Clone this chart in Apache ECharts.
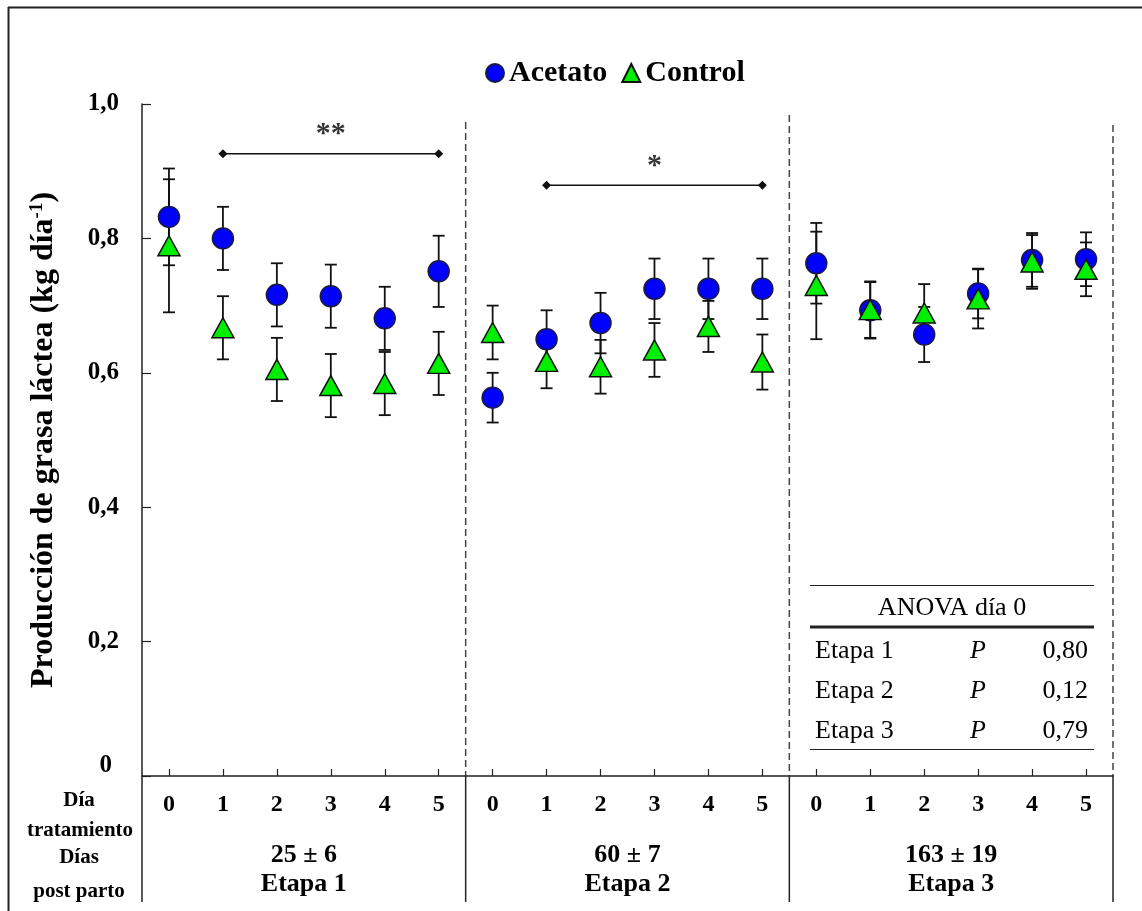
<!DOCTYPE html>
<html>
<head>
<meta charset="utf-8">
<script src="https://cdn.jsdelivr.net/npm/echarts@6/dist/echarts.min.js"></script>
<style>
html,body{margin:0;padding:0;background:#fff;}
#chart{width:1142px;height:911px;}
</style>
</head>
<body>
<div id="chart"></div>
<script>
// ---- data ----
const dayLabels = ['0','1','2','3','4','5'];
const stageNames = ['Etapa 1','Etapa 2','Etapa 3'];
const stageDays = ['25 \u00b1 6','60 \u00b1 7','163 \u00b1 19'];
const acetato = [0.832,0.800,0.716,0.714,0.681,0.751, 0.563,0.650,0.674,0.725,0.725,0.725, 0.763,0.693,0.657,0.718,0.768,0.769];
const acetatoSE = [0.072,0.047,0.047,0.047,0.047,0.053, 0.037,0.043,0.045,0.045,0.045,0.045, 0.060,0.042,0.041,0.037,0.040,0.040];
const control = [0.789,0.667,0.605,0.581,0.584,0.614, 0.660,0.617,0.609,0.634,0.669,0.616, 0.730,0.694,0.689,0.710,0.765,0.754];
const controlSE = [0.099,0.047,0.047,0.047,0.047,0.047, 0.040,0.040,0.040,0.040,0.038,0.041, 0.080,0.042,0.043,0.044,0.040,0.040];
const bracketStart = [1, 7];
const bracketEnd = [5, 11];
const bracketLevel = [0.926, 0.879];
const bracketText = ['**', '*'];
const yTicks = [0, 0.2, 0.4, 0.6, 0.8, 1.0];
const anovaTitle = 'ANOVA d\u00eda 0';
const anovaRows = ['Etapa 1','Etapa 2','Etapa 3'];
const anovaP = ['0,80','0,12','0,79'];

// ---- layout / style ----
const FONT = '"Liberation Serif","Times New Roman",serif';
const G = {left:142, top:104, right:29, bottom:135};
const CW = 1142, CH = 911;
const plotR = CW - G.right, plotB = CH - G.bottom, plotW = plotR - G.left;

const categories = [];
stageNames.forEach((s) => dayLabels.forEach((d) => categories.push(s + '|' + d)));

function errSeries(name, vals, errs, z) {
  return {
    name: name, type: 'custom', z: z, silent: true,
    encode: {x: 0, y: 1},
    data: vals.map((v, i) => [i, v, errs[i]]),
    renderItem: function (params, api) {
      const x = api.value(0), y = api.value(1), e = api.value(2);
      const t = api.coord([x, y + e]), b = api.coord([x, y - e]);
      const hw = 6;
      const st = {stroke: '#111', lineWidth: 1.8};
      return {type: 'group', children: [
        {type: 'line', shape: {x1: t[0], y1: t[1], x2: b[0], y2: b[1]}, style: st},
        {type: 'line', shape: {x1: t[0]-hw, y1: t[1], x2: t[0]+hw, y2: t[1]}, style: st},
        {type: 'line', shape: {x1: b[0]-hw, y1: b[1], x2: b[0]+hw, y2: b[1]}, style: st}
      ]};
    }
  };
}

const series = [
  errSeries('Acetato SE', acetato, acetatoSE, 2),
  errSeries('Control SE', control, controlSE, 2),
  {name: 'Acetato', type: 'scatter', z: 3, symbol: 'circle', symbolSize: 21,
   itemStyle: {color: '#0000ff', borderColor: '#1a1a40', borderWidth: 1.5, opacity: 1},
   data: acetato.map((v, i) => [i, v])},
  {name: 'Control', type: 'scatter', z: 4, symbol: 'triangle', symbolSize: [22, 20],
   itemStyle: {color: '#00ee00', borderColor: '#111', borderWidth: 1.5, opacity: 1},
   data: control.map((v, i) => [i, v])}
];
bracketStart.forEach((s, k) => {
  series.push({
    name: 'sig' + k, type: 'line', z: 5, silent: true,
    symbol: 'diamond', symbolSize: 9,
    itemStyle: {color: '#111'}, lineStyle: {color: '#111', width: 1.5},
    data: [[s, bracketLevel[k]], [bracketEnd[k], bracketLevel[k]]]
  });
  series.push({
    name: 'sigText' + k, type: 'scatter', z: 5, silent: true, symbolSize: 0,
    label: {show: true, position: 'top', distance: 4, formatter: bracketText[k],
      fontFamily: FONT, fontWeight: 'bold', fontSize: 30, color: '#000'},
    data: [[(s + bracketEnd[k]) / 2, bracketLevel[k]]]
  });
});

// ---- decorations ----
const graphic = [];
const L = (x1, y1, x2, y2, w, dash) => ({type: 'line', silent: true,
  shape: {x1, y1, x2, y2}, style: {stroke: dash ? '#444' : '#222', lineWidth: w, lineDash: dash || null}});
graphic.push(L(8, 7.5, CW, 7.5, 2));
graphic.push(L(8.5, 7, 8.5, CH, 2));
graphic.push(L(G.left, plotB, G.left, 902, 1.5));
const dashTop = [122, 115, 125];
for (let k = 1; k <= 3; k++) {
  const x = G.left + plotW * k / 3;
  graphic.push(L(x, dashTop[k - 1], x, plotB, 1.5, [7, 4]));
  graphic.push(L(x, plotB, x, 902, 1.5));
}
const T = (text, x, y, size, weight, extra) => Object.assign({type: 'text', silent: true, x, y,
  style: {text, fill: '#000', font: (weight || 'normal') + ' ' + size + 'px ' + FONT,
    align: 'center', verticalAlign: 'middle', textAlign: 'center', textVerticalAlign: 'middle'}}, extra || {});
stageNames.forEach((s, k) => {
  const cx = G.left + plotW * (k + 0.5) / 3;
  graphic.push(T(stageDays[k], cx, 855, 26, 'bold'));
  graphic.push(T(s, cx, 884, 26, 'bold'));
});
graphic.push(T('D\u00eda', 79, 801, 21, 'bold'));
graphic.push(T('tratamiento', 80, 831, 21, 'bold'));
graphic.push(T('D\u00edas', 79, 858, 21, 'bold'));
graphic.push(T('post parto', 79, 892, 21, 'bold'));
// y axis title
graphic.push({type: 'text', silent: true, x: 44, y: (G.top + plotB) / 2, rotation: Math.PI / 2,
  style: {text: '{a|Producci\u00f3n de grasa l\u00e1ctea (kg d\u00eda}{s|-1}{a|)}',
    align: 'center', verticalAlign: 'middle', textAlign: 'center', textVerticalAlign: 'middle',
    rich: {
      a: {fontFamily: FONT, fontWeight: 'bold', fontSize: 32, fill: '#000', color: '#000'},
      s: {fontFamily: FONT, fontWeight: 'bold', fontSize: 19, fill: '#000', color: '#000', verticalAlign: 'top', padding: [0, 0, 10, 0]}
    }}});
// ANOVA table
graphic.push(L(810, 585.5, 1094, 585.5, 1.2));
graphic.push(T(anovaTitle, 952, 608, 26, 'normal'));
graphic.push(L(810, 627, 1094, 627, 3));
graphic.push(L(810, 749.5, 1094, 749.5, 1.2));
anovaRows.forEach((r, i) => {
  const y = 651 + i * 40;
  graphic.push(T(r, 815, y, 26, 'normal', {style: {text: r, fill: '#000', font: '26px ' + FONT, align: 'left', textAlign: 'left', verticalAlign: 'middle', textVerticalAlign: 'middle'}}));
  graphic.push(T('P', 978, y, 26, 'normal', {style: {text: 'P', fill: '#000', font: 'italic 26px ' + FONT, align: 'center', textAlign: 'center', verticalAlign: 'middle', textVerticalAlign: 'middle'}}));
  graphic.push(T(anovaP[i], 1088, y, 26, 'normal', {style: {text: anovaP[i], fill: '#000', font: '26px ' + FONT, align: 'right', textAlign: 'right', verticalAlign: 'middle', textVerticalAlign: 'middle'}}));
});

const chart = echarts.init(document.getElementById('chart'), null, {renderer: 'canvas'});
chart.setOption({
  animation: false,
  backgroundColor: '#fff',
  grid: {left: G.left, top: G.top, right: G.right, bottom: G.bottom, containLabel: false},
  legend: {
    data: [{name: 'Acetato', icon: 'circle'}, {name: 'Control', icon: 'triangle'}],
    left: 480, top: 53, itemGap: 14, itemWidth: 18, itemHeight: 18,
    textStyle: {fontFamily: FONT, fontWeight: 'bold', fontSize: 30, color: '#000'}
  },
  xAxis: {
    type: 'category', data: categories, boundaryGap: true,
    axisLine: {show: true, lineStyle: {color: '#222', width: 1.5}},
    axisTick: {show: true, inside: true, alignWithLabel: true, length: 7, lineStyle: {color: '#222', width: 1.2}},
    axisLabel: {show: true, interval: 0, margin: 17, formatter: (v) => v.split('|')[1],
      fontFamily: FONT, fontWeight: 'bold', fontSize: 24, color: '#000'},
    splitLine: {show: false}
  },
  yAxis: {
    type: 'value', min: yTicks[0], max: yTicks[yTicks.length - 1], interval: 0.2,
    axisLine: {show: true, lineStyle: {color: '#222', width: 1.5}},
    axisTick: {show: true, inside: true, length: 9, lineStyle: {color: '#222', width: 1.2}},
    axisLabel: {show: true, margin: 23,
      formatter: (v) => Math.abs(v) < 1e-9 ? '{z|0}' : v.toFixed(1).replace('.', ','),
      fontFamily: FONT, fontWeight: 'bold', fontSize: 25, color: '#000',
      rich: {z: {fontFamily: FONT, fontWeight: 'bold', fontSize: 25, color: '#000', padding: [0, 7, 20, 0]}}},
    splitLine: {show: false}
  },
  graphic: graphic,
  series: series
});
</script>
</body>
</html>
